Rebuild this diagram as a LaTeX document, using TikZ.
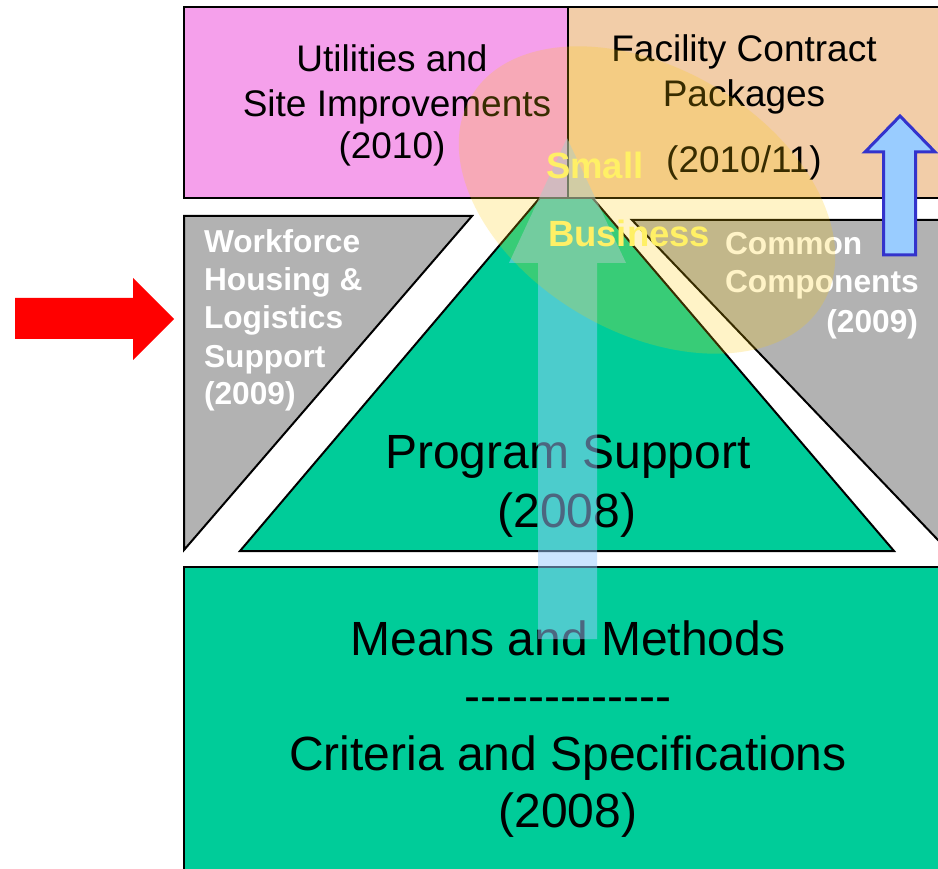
\documentclass[tikz,border=0pt]{standalone}
\usepackage{fontspec}
\setmainfont{Liberation Sans}
\definecolor{pinkbox}{HTML}{F5A0EB}
\definecolor{peachbox}{HTML}{F2CDA8}
\definecolor{graybox}{HTML}{B2B2B2}
\definecolor{greenbox}{HTML}{00CC99}
\definecolor{ellyellow}{HTML}{FFCC00}
\definecolor{cyanarrow}{HTML}{99CCFF}
\definecolor{bluefill}{HTML}{99CCFF}
\definecolor{blueline}{HTML}{3333CC}
\definecolor{sbtext}{HTML}{FFF066}
\definecolor{redarrow}{HTML}{FF0000}
\newcommand\onedash{\mbox{-}}
\begin{document}
\begin{tikzpicture}[x=1pt,y=-1pt,
  shapeline/.style={draw=black, line width=2pt, line join=miter},
  lbl/.style={anchor=base, inner sep=0pt, outer sep=0pt},
  lbll/.style={anchor=base west, inner sep=0pt, outer sep=0pt},
  lblr/.style={anchor=base east, inner sep=0pt, outer sep=0pt},
  midtext/.style={font=\fontsize{37}{44}\selectfont},
  bigtext/.style={font=\fontsize{48}{58}\selectfont},
  graytext/.style={font=\fontsize{31.7}{38}\selectfont\bfseries, text=white},
  sbstyle/.style={font=\fontsize{36.5}{44}\selectfont\bfseries, text=sbtext}]
\useasboundingbox (0,0) rectangle (938,869);
\clip (0,0) rectangle (938,869);
\fill[white] (0,0) rectangle (938,869);

% pyramid parts
\path[shapeline, fill=greenbox] (240,551) -- (566,167) -- (894,551) -- cycle;
\path[shapeline, fill=graybox] (184,216) -- (472,216) -- (184,550) -- cycle;
\path[shapeline, fill=graybox] (632,220) -- (960,220) -- (960,563) -- cycle;

% top boxes
\path[shapeline, fill=pinkbox] (184,7) rectangle (568,198);
\path[shapeline, fill=peachbox] (568,7) rectangle (960,198);
% bottom box
\path[shapeline, fill=greenbox] (184,567) rectangle (960,900);

% texts
\node[lbl, midtext] (u1) at (392,72) {Utilities and};
\node[lbl, midtext] (u2) at (397,117) {Site Improvements};
\node[lbl, midtext] (u3) at (392,159) {(2010)};

\node[lbl, midtext] (f1) at (744,62) {Facility Contract};
\node[lbl, midtext] (f2) at (744,107) {Packages};
\node[lbl, midtext] (f3) at (744,173) {(2010/11)};

\node[lbll, graytext] (w1) at (204,253) {Workforce};
\node[lbll, graytext] (w2) at (204,291) {Housing \&};
\node[lbll, graytext] (w3) at (204,329) {Logistics};
\node[lbll, graytext] (w4) at (204,367) {Support};
\node[lbll, graytext] (w5) at (204,404) {(2009)};

\node[lbll, graytext] (c1) at (725,255) {Common};
\node[lbll, graytext] (c2) at (725,293) {Components};
\node[lblr, graytext] (c3) at (918,333) {(2009)};

\node[lbl, bigtext] (p1) at (568,468) {Program Support};
\node[lbl, bigtext] (p2) at (567,527) {(2008)};

\node[lbl, bigtext] (m1) at (568,655) {Means and Methods};
\node[lbl, bigtext] (m2) at (568,712) {\onedash\onedash\onedash\onedash\onedash\onedash\onedash\onedash\onedash\onedash\onedash\onedash\onedash};
\node[lbl, bigtext] (m3) at (568,770) {Criteria and Specifications};
\node[lbl, bigtext] (m4) at (568,827) {(2008)};

% translucent upward arrow
\fill[cyanarrow, fill opacity=0.5] (538,639) -- (538,263) -- (509,263) -- (567,138)
  -- (626,263) -- (597,263) -- (597,639) -- cycle;

% translucent ellipse
\begin{scope}[shift={(647,200)}, rotate=-30.4]
  \fill[ellyellow, fill opacity=0.22] (0,0) ellipse [x radius=204pt, y radius=132pt];
\end{scope}

\node[lbll, sbstyle] (s1) at (546,179) {Small};
\node[lbll, sbstyle] (s2) at (548,247) {Business};

% blue arrow
\path[draw=blueline, fill=bluefill, line width=3pt, line join=miter]
  (883.5,255) -- (883.5,152) -- (865,152) -- (900,116) -- (935,152)
  -- (915.5,152) -- (915.5,255) -- cycle;

% red arrow
\fill[redarrow] (15,298) -- (133,298) -- (133,278) -- (174,319) -- (133,360)
  -- (133,339) -- (15,339) -- cycle;
\end{tikzpicture}
\end{document}
